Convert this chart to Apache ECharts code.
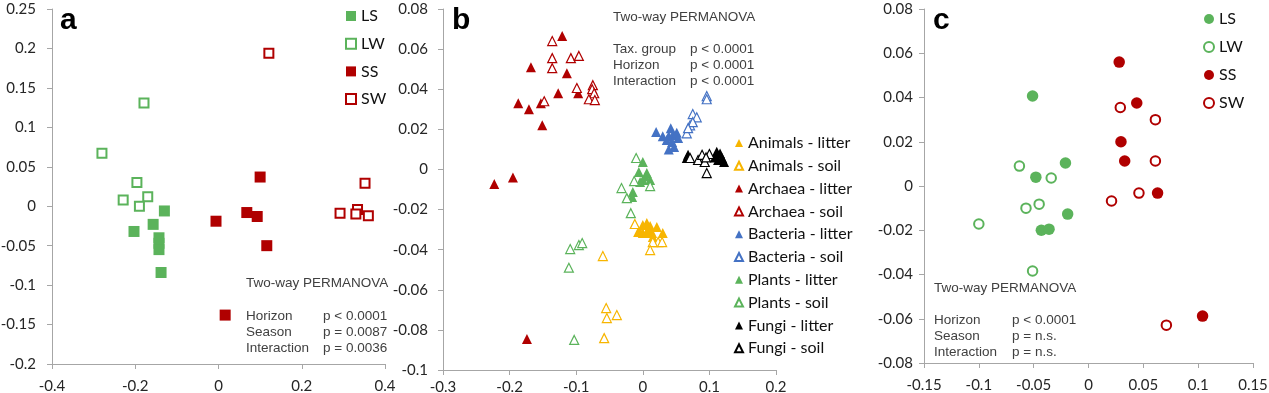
<!DOCTYPE html>
<html><head><meta charset="utf-8">
<script src="https://cdn.jsdelivr.net/npm/echarts@6/dist/echarts.min.js"></script>
<style>html,body{margin:0;padding:0;background:#fff}#c{width:1269px;height:393px}</style>
</head><body><div id="c"></div>
<script>
// ---- Panel a (squares) ----
const aLS = [[-0.13,-0.006],[-0.157,-0.023],[-0.203,-0.032],[-0.143,-0.040],[-0.143,-0.047],[-0.143,-0.055],[-0.138,-0.084]];
const aLW = [[-0.28,0.067],[-0.179,0.131],[-0.196,0.030],[-0.229,0.008],[-0.170,0.012],[-0.190,0.000]];
const aSS = [[0.10,0.037],[-0.006,-0.019],[0.068,-0.008],[0.093,-0.013],[0.116,-0.050],[0.016,-0.138]];
const aSW = [[0.121,0.194],[0.352,0.029],[0.292,-0.009],[0.334,-0.004],[0.330,-0.010],[0.360,-0.012]];
// ---- Panel b (triangles) ----
const animalsLitter = [[0.0,-0.0277],[0.006,-0.0267],[0.011,-0.0282],[-0.004,-0.0312],[0.0,-0.0317],[0.014,-0.0317],[0.021,-0.0287],[0.03,-0.0317],[0.015,-0.0337],[0.008,-0.030],[-0.007,-0.0312],[0.006,-0.0317]];
const animalsSoil = [[-0.012,-0.0272],[0.023,-0.0362],[0.029,-0.0362],[0.015,-0.0362],[0.011,-0.0402],[-0.06,-0.0432],[-0.055,-0.0691],[-0.054,-0.0741],[-0.039,-0.0726],[-0.058,-0.0841]];
const archaeaLitter = [[-0.121,0.0665],[-0.168,0.051],[-0.114,0.048],[-0.127,0.038],[-0.097,0.038],[-0.187,0.033],[-0.171,0.030],[-0.153,0.033],[-0.151,0.022],[-0.223,-0.0073],[-0.195,-0.004],[-0.174,-0.0846]];
const archaeaSoil = [[-0.136,0.064],[-0.136,0.0555],[-0.136,0.0505],[-0.108,0.0555],[-0.096,0.0566],[-0.148,0.034],[-0.099,0.0406],[-0.075,0.042],[-0.076,0.040],[-0.073,0.038],[-0.081,0.035],[-0.072,0.0346]];
const bacteriaLitter = [[0.02,0.0187],[0.03,0.0166],[0.042,0.0206],[0.039,0.0167],[0.045,0.0172],[0.051,0.0183],[0.053,0.0157],[0.044,0.0137],[0.047,0.0112],[0.039,0.010],[0.036,0.0147]];
const bacteriaSoil = [[0.096,0.0366],[0.096,0.035],[0.075,0.0276],[0.081,0.026],[0.071,0.022],[0.075,0.0236],[0.066,0.018],[0.068,0.0206]];
const plantsLitter = [[0.0,0.0037],[-0.006,-0.0013],[0.006,-0.0018],[0.0,-0.0053],[0.011,-0.0053],[-0.004,-0.0063],[-0.015,-0.0113],[-0.016,-0.0138],[0.004,-0.0035]];
const plantsSoil = [[-0.01,0.0057],[-0.013,-0.0058],[0.011,-0.0083],[-0.032,-0.0093],[-0.024,-0.0143],[-0.018,-0.0218],[-0.096,-0.0377],[-0.091,-0.0367],[-0.109,-0.0397],[-0.111,-0.049],[-0.103,-0.085]];
const fungiLitter = [[0.068,0.0073],[0.066,0.0057],[0.111,0.0088],[0.116,0.008],[0.119,0.0057],[0.122,0.0037],[0.108,0.006],[0.113,0.0047]];
const fungiSoil = [[0.083,0.0047],[0.089,0.0073],[0.093,0.0037],[0.100,0.0077],[0.095,0.006],[0.096,-0.0018],[0.071,0.0057]];
// ---- Panel c (circles) ----
const cLS = [[-0.051,0.0407],[-0.048,0.004],[-0.021,0.0104],[-0.019,-0.0127],[-0.043,-0.020],[-0.036,-0.0195]];
const cLW = [[-0.063,0.009],[-0.034,0.0036],[-0.057,-0.010],[-0.045,-0.0082],[-0.100,-0.0172],[-0.051,-0.0384]];
const cSS = [[0.028,0.056],[0.044,0.0375],[0.0296,0.020],[0.033,0.0113],[0.063,-0.0032],[0.104,-0.0588]];
const cSW = [[0.029,0.0355],[0.061,0.030],[0.061,0.0113],[0.046,-0.0032],[0.021,-0.0068],[0.071,-0.0629]];

const seasonNames = ['LS','LW','SS','SW'];
const groupNames = ['Animals - litter','Animals - soil','Archaea - litter','Archaea - soil','Bacteria - litter','Bacteria - soil','Plants - litter','Plants - soil','Fungi - litter','Fungi - soil'];

const aText = ['Two-way PERMANOVA','Horizon','Season','Interaction'];
const aP = ['p < 0.0001','p = 0.0087','p = 0.0036'];
const bText = ['Two-way PERMANOVA','Tax. group','Horizon','Interaction'];
const bP = ['p < 0.0001','p < 0.0001','p < 0.0001'];
const cText = ['Two-way PERMANOVA','Horizon','Season','Interaction'];
const cP = ['p < 0.0001','p = n.s.','p = n.s.'];

const GREEN = '#5bb35b', RED = '#b00000', BLUE = '#4472c4', YELLOW = '#f7b500', BLACK = '#000000';

function sc(name, idx, data, symbol, color, open, size, bw) {
  return {
    type: 'scatter', name: name, xAxisIndex: idx, yAxisIndex: idx, data: data,
    symbol: symbol, symbolSize: size,
    itemStyle: open ? {color: '#ffffff', borderColor: color, borderWidth: bw, opacity: 1} : {color: color, opacity: 1},
    emphasis: {disabled: true}
  };
}
const series = [
  sc('a|LS',0,aLS,'rect',GREEN,false,11),
  sc('a|LW',0,aLW,'rect',GREEN,true,9,2),
  sc('a|SS',0,aSS,'rect',RED,false,11),
  sc('a|SW',0,aSW,'rect',RED,true,9,2),
  sc('b|Animals - litter',1,animalsLitter,'triangle',YELLOW,false,10),
  sc('b|Animals - soil',1,animalsSoil,'triangle',YELLOW,true,9,1.2),
  sc('b|Archaea - litter',1,archaeaLitter,'triangle',RED,false,10),
  sc('b|Archaea - soil',1,archaeaSoil,'triangle',RED,true,9,1.2),
  sc('b|Bacteria - litter',1,bacteriaLitter,'triangle',BLUE,false,10),
  sc('b|Bacteria - soil',1,bacteriaSoil,'triangle',BLUE,true,9,1.2),
  sc('b|Plants - litter',1,plantsLitter,'triangle',GREEN,false,10),
  sc('b|Plants - soil',1,plantsSoil,'triangle',GREEN,true,9,1.2),
  sc('b|Fungi - litter',1,fungiLitter,'triangle',BLACK,false,10),
  sc('b|Fungi - soil',1,fungiSoil,'triangle',BLACK,true,9,1.2),
  sc('c|LS',2,cLS,'circle',GREEN,false,11.5),
  sc('c|LW',2,cLW,'circle',GREEN,true,9.5,2),
  sc('c|SS',2,cSS,'circle',RED,false,11.5),
  sc('c|SW',2,cSW,'circle',RED,true,9.5,2)
];

const AX = '#a6a6a6', LBL = '#262626', FONT = 'Lato';
function xa(idx, min, max, interval, margin) {
  return {type:'value', gridIndex: idx, min, max, interval,
    axisLine:{show:true, onZero:false, lineStyle:{color:AX, width:1}},
    axisTick:{show:true, length:5, lineStyle:{color:AX}},
    splitLine:{show:false},
    axisLabel:{color:LBL, fontFamily:FONT, fontSize:15, margin}};
}
function ya(idx, min, max, interval, margin) {
  return {type:'value', gridIndex: idx, min, max, interval,
    axisLine:{show:true, onZero:false, lineStyle:{color:AX, width:1}},
    axisTick:{show:true, length:5, lineStyle:{color:AX}},
    splitLine:{show:false},
    axisLabel:{color:LBL, fontFamily:FONT, fontSize:15, margin}};
}
function leg(prefix, names, left, top, iw, ih, gap) {
  return {data: names.map(n => prefix + '|' + n), orient:'vertical', left, top,
    itemWidth: iw, itemHeight: ih, itemGap: gap, selectedMode:false, padding:0,
    formatter: n => n.split('|')[1],
    textStyle:{fontFamily:FONT, fontSize:16, color:'#111', lineHeight:16}};
}
function txtBlock(labels, pvals, x, y0, dy1, dy, px) {
  const st = {fontFamily:'Liberation Sans', fontSize:13.5, fill:'#404040'};
  const out = [{type:'text', left:x, top:y0, style:Object.assign({text:labels[0]}, st)}];
  for (let i = 1; i < labels.length; i++) {
    const yy = y0 + dy1 + (i-1)*dy;
    out.push({type:'text', left:x, top:yy, style:Object.assign({text:labels[i]}, st)});
    out.push({type:'text', left:px, top:yy, style:Object.assign({text:pvals[i-1]}, st)});
  }
  return out;
}
function letter(t, x) {
  return {type:'text', left:x, top:6, style:{text:t, fontFamily:'Liberation Sans', fontWeight:'bold', fontSize:30, fill:'#000'}};
}

const option = {
  animation:false,
  backgroundColor:'#ffffff',
  grid:[
    {left:52, top:9, width:333, height:355, outerBoundsMode:'none'},
    {left:443, top:9, width:333, height:361, outerBoundsMode:'none'},
    {left:924, top:9, width:329, height:354, outerBoundsMode:'none'}
  ],
  xAxis:[xa(0,-0.4,0.4,0.2,15), xa(1,-0.3,0.2,0.1,10), xa(2,-0.15,0.15,0.05,15)],
  yAxis:[ya(0,-0.2,0.25,0.05,16), ya(1,-0.1,0.08,0.02,15), ya(2,-0.08,0.08,0.02,11)],
  legend:[
    leg('a', seasonNames, 345, 8, 10, 10, 11.7),
    leg('b', groupNames, 734, 135, 8, 8, 6.8),
    leg('c', seasonNames, 1203, 11, 10, 10, 12)
  ],
  graphic:[
    letter('a', 60), letter('b', 452), letter('c', 933)
  ].concat(
    txtBlock(aText, aP, 246, 276, 33, 16, 323),
    txtBlock(bText, bP, 613, 10, 32, 16, 690),
    txtBlock(cText, cP, 934, 281, 32, 16, 1012)
  ),
  series
};
const chart = echarts.init(document.getElementById('c'), null, {renderer:'canvas'});
chart.setOption(option);
</script></body></html>
